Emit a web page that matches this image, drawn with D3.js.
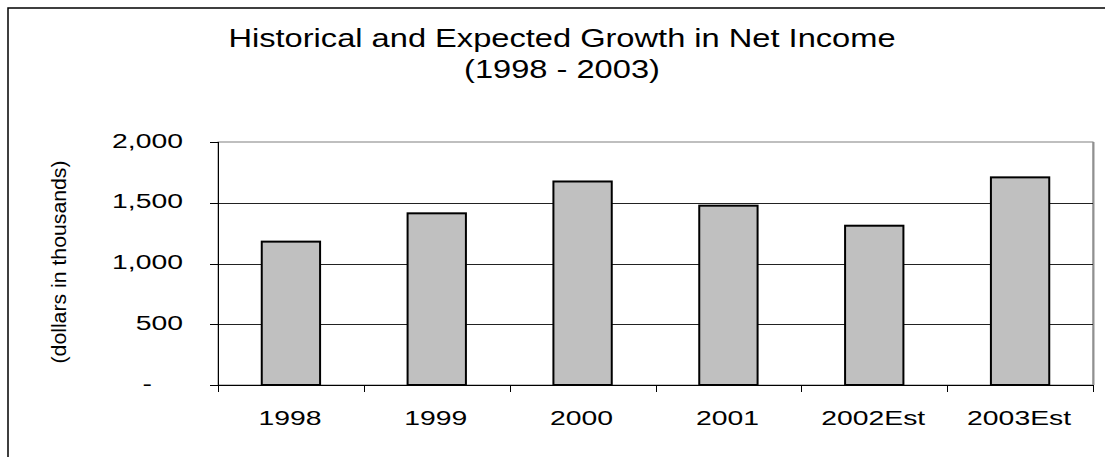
<!DOCTYPE html>
<html>
<head>
<meta charset="utf-8">
<script src="https://cdn.jsdelivr.net/npm/d3@7"></script>
<style>
  html, body { margin: 0; padding: 0; background: #fff; }
  svg { display: block; font-family: "Liberation Sans", Arial, sans-serif; }
</style>
</head>
<body>
<svg id="chart" width="1105" height="457"></svg>
<script>
// ---- data ----
const categories = ["1998", "1999", "2000", "2001", "2002Est", "2003Est"];
const netIncome = [1180, 1413, 1675, 1476, 1311, 1709];
const yTickValues = [0, 500, 1000, 1500, 2000];
const yTickLabels = ["-", "500", "1,000", "1,500", "2,000"];
const titleLines = ["Historical and Expected Growth in Net Income", "(1998 - 2003)"];
const yAxisTitle = "(dollars in thousands)";

// ---- layout ----
const svg = d3.select("#chart");
const plot = { left: 218, right: 1093, top: 142, bottom: 385 };

const x = d3.scaleBand()
  .domain(categories)
  .range([plot.left, plot.right])
  .paddingInner(0.6)
  .paddingOuter(0.3);

const y = d3.scaleLinear()
  .domain([0, 2000])
  .range([plot.bottom, plot.top]);

// stretched text helper (the original is horizontally stretched)
function stretchedText(g, tx, ty, str, size, sx, anchor) {
  return g.append("text")
    .attr("transform", `translate(${tx},${ty}) scale(${sx},1)`)
    .attr("text-anchor", anchor)
    .attr("font-size", size)
    .attr("fill", "#000")
    .text(str);
}

// outer chart border (extends beyond the visible window at right/bottom)
svg.append("rect")
  .attr("x", 8).attr("y", 8)
  .attr("width", 1300).attr("height", 700)
  .attr("fill", "#fff")
  .attr("stroke", "#000")
  .attr("stroke-width", 1.5);

// title
const tg = svg.append("g");
stretchedText(tg, 562, 46.5, titleLines[0], 25.5, 1.28, "middle");
stretchedText(tg, 562, 78, titleLines[1], 25.5, 1.28, "middle");

// plot area border
svg.append("rect")
  .attr("x", plot.left).attr("y", plot.top)
  .attr("width", plot.right - plot.left).attr("height", plot.bottom - plot.top)
  .attr("fill", "#fff")
  .attr("stroke", "#808080")
  .attr("stroke-width", 1);
svg.append("line")
  .attr("x1", plot.right + 0.5).attr("x2", plot.right + 0.5)
  .attr("y1", plot.top).attr("y2", plot.bottom)
  .attr("stroke", "#909090").attr("stroke-width", 2);

// gridlines
svg.append("g").selectAll("line")
  .data(yTickValues.filter(v => v > 0 && v < 2000))
  .join("line")
  .attr("x1", plot.left).attr("x2", plot.right)
  .attr("y1", d => Math.round(y(d)) + 0.5).attr("y2", d => Math.round(y(d)) + 0.5)
  .attr("stroke", "#222").attr("stroke-width", 1);

// bars
svg.append("g").selectAll("rect")
  .data(categories.map((c, i) => ({ c, v: netIncome[i] })))
  .join("rect")
  .attr("x", d => x(d.c))
  .attr("y", d => y(d.v))
  .attr("width", x.bandwidth())
  .attr("height", d => y(0) - y(d.v))
  .attr("fill", "#C0C0C0")
  .attr("stroke", "#000")
  .attr("stroke-width", 2);

// y axis line and ticks
const ya = svg.append("g");
ya.append("line")
  .attr("x1", plot.left + 0.5).attr("x2", plot.left + 0.5)
  .attr("y1", plot.top).attr("y2", plot.bottom + 7)
  .attr("stroke", "#000").attr("stroke-width", 1);
ya.selectAll("line.tick")
  .data(yTickValues)
  .join("line")
  .attr("class", "tick")
  .attr("x1", plot.left - 8).attr("x2", plot.left)
  .attr("y1", d => Math.round(y(d)) + 0.5).attr("y2", d => Math.round(y(d)) + 0.5)
  .attr("stroke", "#000").attr("stroke-width", 1);
yTickValues.forEach((v, i) => {
  const t = stretchedText(ya, 183 - (v === 0 ? 31 : 0), y(v) + 5.5, yTickLabels[i], 21, 1.35, "end");
});

// x axis line and boundary ticks
const xa = svg.append("g");
xa.append("line")
  .attr("x1", plot.left).attr("x2", plot.right)
  .attr("y1", plot.bottom + 0.5).attr("y2", plot.bottom + 0.5)
  .attr("stroke", "#000").attr("stroke-width", 1);
const bounds = categories.map(c => x(c) + x.bandwidth() / 2 - x.step() / 2);
bounds.push(x(categories[categories.length - 1]) + x.bandwidth() / 2 + x.step() / 2);
xa.selectAll("line.tick")
  .data(bounds)
  .join("line")
  .attr("class", "tick")
  .attr("x1", d => Math.round(d) + 0.5).attr("x2", d => Math.round(d) + 0.5)
  .attr("y1", plot.bottom).attr("y2", plot.bottom + 7)
  .attr("stroke", "#000").attr("stroke-width", 1);
categories.forEach(c => {
  stretchedText(xa, x(c) + x.bandwidth() / 2 - 1, plot.bottom + 40, c, 21, 1.35, "middle");
});

// y axis title
svg.append("text")
  .attr("transform", `translate(66,262) rotate(-90)`)
  .attr("text-anchor", "middle")
  .attr("font-size", 21)
  .attr("textLength", 203)
  .attr("lengthAdjust", "spacingAndGlyphs")
  .attr("fill", "#000")
  .text(yAxisTitle);
</script>
</body>
</html>
